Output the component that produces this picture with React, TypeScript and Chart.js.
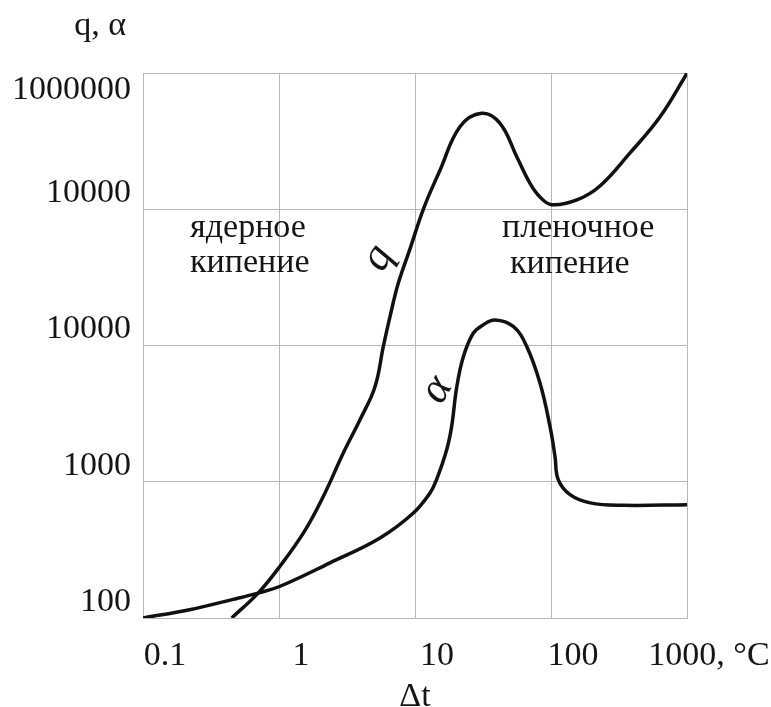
import React, { useEffect, useRef } from "react";
import { Chart, registerables } from "chart.js";

Chart.register(...registerables);

// ---- data ----
const xTickValues = [0.1, 1, 10, 100, 1000];
const xTickLabels = ["0.1", "1", "10", "100", "1000, °C"];
const yTickValues = [100, 1000, 10000, 100000, 1000000];
const yTickLabels = ["100", "1000", "10000", "10000", "1000000"];

const xTitle = "Δt";
const yTitle = "q, α";

// q curve (heat flux)
const qDeltaT = [0.449, 0.705, 1.02, 1.55, 2.12, 2.97, 3.94, 5.08, 5.85, 6.55, 7.54, 9.19, 11.6, 15.3, 21.4, 30.9, 42.2, 56.0, 70.1, 83.0, 101, 155, 229, 381, 632, 1000];
const qValues = [100, 153, 241, 438, 782, 1626, 2853, 4980, 9840, 16300, 28700, 51200, 102000, 194000, 403000, 506000, 427000, 243000, 155000, 123000, 108000, 117000, 148000, 259000, 475000, 994000];

// alpha curve (heat transfer coefficient)
const alphaDeltaT = [0.1, 0.22, 0.46, 0.71, 1.02, 2.37, 5.53, 9.73, 12.9, 14.4, 17.1, 18.6, 20.3, 22.7, 26.8, 31.8, 38.7, 52.8, 66.3, 83.0, 98.3, 107, 113, 138, 194, 340, 1000];
const alphaValues = [100, 115, 137, 153, 171, 254, 387, 590, 828, 1036, 1718, 2549, 5004, 8300, 12300, 14200, 15400, 13800, 9840, 5300, 2550, 1535, 1035, 804, 700, 672, 679];

// region annotations (anchored in data coordinates)
const regionNotes = [
  { text: "ядерное", x: 0.222, y: 62700 },
  { text: "кипение", x: 0.222, y: 34700 },
  { text: "пленочное", x: 43.6, y: 62700 },
  { text: "кипение", x: 50.0, y: 34100 },
];
const curveNames = [
  { text: "q", x: 5.35, y: 44000 },
  { text: "α", x: 14.5, y: 4730 },
];

const FAMILY = '"Liberation Serif", "Times New Roman", serif';
const GRID = "#b8b8b8";
const TEXT = "#151515";
const LINE = "#111111";

const textPlugin = {
  id: "texts",
  afterDraw(chart: any) {
    const { ctx, chartArea, scales } = chart;
    const xs = scales.x;
    const ys = scales.y;
    ctx.save();
    ctx.fillStyle = TEXT;
    ctx.font = `34px ${FAMILY}`;
    ctx.textAlign = "left";
    ctx.textBaseline = "alphabetic";
    for (const n of regionNotes) {
      ctx.fillText(n.text, xs.getPixelForValue(n.x), ys.getPixelForValue(n.y));
    }
    ctx.font = `italic 44px ${FAMILY}`;
    ctx.textAlign = "center";
    ctx.textBaseline = "middle";
    for (const c of curveNames) {
      ctx.save();
      ctx.translate(xs.getPixelForValue(c.x), ys.getPixelForValue(c.y));
      ctx.rotate(-Math.PI / 3);
      ctx.fillText(c.text, 0, 0);
      ctx.restore();
    }
    ctx.font = `34px ${FAMILY}`;
    ctx.textAlign = "right";
    ctx.textBaseline = "alphabetic";
    ctx.fillText(yTitle, chartArea.left - 17, chartArea.top - 38);
    ctx.restore();
  },
};

export default function App() {
  const ref = useRef<HTMLCanvasElement | null>(null);

  useEffect(() => {
    if (!ref.current) return;
    const chart = new Chart(ref.current, {
      type: "line",
      data: {
        datasets: [
          {
            label: "q",
            data: qDeltaT.map((x, i) => ({ x, y: qValues[i] })),
            borderColor: LINE,
            borderWidth: 3.5,
            pointRadius: 0,
            fill: false,
            tension: 0.4,
          },
          {
            label: "α",
            data: alphaDeltaT.map((x, i) => ({ x, y: alphaValues[i] })),
            borderColor: LINE,
            borderWidth: 3.5,
            pointRadius: 0,
            fill: false,
            tension: 0.4,
          },
        ],
      },
      options: {
        responsive: false,
        animation: false,
        events: [],
        layout: { padding: { left: 0, top: 73, right: 84, bottom: 0 } },
        plugins: {
          legend: { display: false },
          tooltip: { enabled: false },
        },
        scales: {
          x: {
            type: "logarithmic",
            position: "bottom",
            min: 0.1,
            max: 1000,
            afterBuildTicks: (s: any) => {
              s.ticks = xTickValues.map((v) => ({ value: v }));
            },
            afterFit: (s: any) => {
              s.height = 89;
            },
            grid: { color: GRID, lineWidth: 1, drawTicks: false },
            border: { color: GRID, width: 1 },
            ticks: {
              autoSkip: false,
              maxRotation: 0,
              minRotation: 0,
              padding: 17.5,
              labelOffset: 22,
              color: TEXT,
              font: { family: FAMILY, size: 34 },
              callback: (_v: any, i: number) => xTickLabels[i],
            },
            title: {
              display: true,
              text: xTitle,
              color: TEXT,
              padding: 0,
              font: { family: FAMILY, size: 34, lineHeight: "19px" },
            },
          },
          y: {
            type: "logarithmic",
            position: "left",
            min: 100,
            max: 1000000,
            afterBuildTicks: (s: any) => {
              s.ticks = yTickValues.map((v) => ({ value: v }));
            },
            afterFit: (s: any) => {
              s.width = 143;
            },
            grid: { color: GRID, lineWidth: 1, drawTicks: false },
            border: { color: GRID, width: 1 },
            ticks: {
              autoSkip: false,
              padding: 12,
              labelOffset: -16,
              color: TEXT,
              font: { family: FAMILY, size: 34, lineHeight: "33px" },
              callback: (_v: any, i: number) =>
                i === yTickLabels.length - 1 ? ["", "", yTickLabels[i]] : yTickLabels[i],
            },
          },
        },
      } as any,
      plugins: [textPlugin],
    });
    return () => chart.destroy();
  }, []);

  return (
    <div style={{ position: "fixed", left: 0, top: 0, width: 771, height: 707, background: "#fff" }}>
      <canvas ref={ref} width={771} height={707} style={{ display: "block" }} />
    </div>
  );
}
